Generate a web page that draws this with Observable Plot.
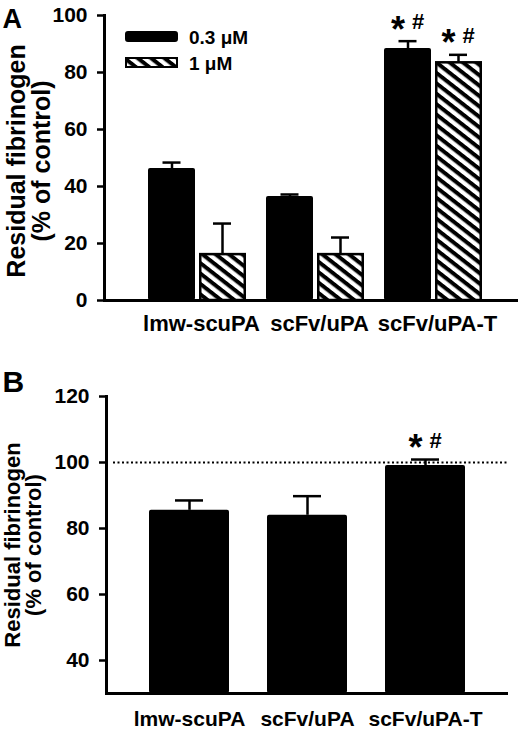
<!DOCTYPE html>
<html>
<head>
<meta charset="utf-8">
<script src="https://cdn.jsdelivr.net/npm/d3@7"></script>
<script src="https://cdn.jsdelivr.net/npm/@observablehq/plot@0.6"></script>
<style>
  body { margin: 0; background: white; }
  #chart { width: 520px; }
  #chart svg { display: block; }
</style>
</head>
<body>
<div id="chart"></div>
<script>
const categories = ["lmw-scuPA", "scFv/uPA", "scFv/uPA-T"];
const doses = ["0.3 μM", "1 μM"];

// panel A: residual fibrinogen at two doses (mean, SEM)
const lowDose = [46.3, 36.5, 88.4];
const lowDoseErr = [2.1, 0.7, 2.6];
const highDose = [16.1, 16.1, 83.4];
const highDoseErr = [10.9, 6.0, 2.8];
const sigLow = ["", "", "*#"];
const sigHigh = ["", "", "*#"];
const ticksA = [0, 20, 40, 60, 80, 100];

// panel B
const valuesB = [85.5, 84.0, 99.1];
const errB = [3.0, 5.8, 1.8];
const sigB = ["", "", "*#"];
const ticksB = [40, 60, 80, 100, 120];
const domainB = [30, 120];
const controlLevel = [100];

const yLabel = "Residual fibrinogen\n(% of control)";
const font = "'Liberation Sans', Arial, sans-serif";

const low = categories.map((c, i) => ({cat: c, v: lowDose[i], e: lowDoseErr[i], sig: sigLow[i]}));
const high = categories.map((c, i) => ({cat: c, v: highDose[i], e: highDoseErr[i], sig: sigHigh[i]}));
const rowsB = categories.map((c, i) => ({cat: c, v: valuesB[i], e: errB[i], sig: sigB[i]}));

function hatchDefs() {
  const defs = d3.create("svg:defs");
  const p = defs.append("pattern")
    .attr("id", "hatch")
    .attr("patternUnits", "userSpaceOnUse")
    .attr("width", 8.2).attr("height", 8.2)
    .attr("patternTransform", "rotate(38)");
  p.append("rect").attr("width", 8.2).attr("height", 8.2).attr("fill", "white");
  p.append("rect").attr("width", 8.2).attr("height", 4).attr("fill", "black");
  return defs.node();
}

function legendA() {
  const g = d3.create("svg:g").attr("text-anchor", "start");
  const fills = ["black", "url(#hatch)"];
  doses.forEach((d, i) => {
    const y = 32 + i * 26;
    g.append("rect")
      .attr("x", 126).attr("y", y).attr("width", 51).attr("height", 9)
      .attr("fill", fills[i]).attr("stroke", "black").attr("stroke-width", 2)
      .attr("rx", i ? 0 : 2);
    g.append("text")
      .attr("x", 189).attr("y", y + 5).attr("dy", "0.35em")
      .attr("font-size", 19).attr("fill", "black")
      .text(d);
  });
  return g.node();
}

function sigMarks(data, dx) {
  const rows = data.filter(d => d.sig);
  return [
    Plot.text(rows, {x: "cat", y: d => d.v + d.e, text: d => d.sig[0], dx: dx - 10, dy: -11, fontSize: 36}),
    Plot.text(rows, {x: "cat", y: d => d.v + d.e, text: d => d.sig[1], dx: dx + 10, dy: -19, fontSize: 22})
  ];
}

function errorMarks(data, dx, inset) {
  return [
    Plot.ruleX(data, {x: "cat", y1: "v", y2: d => d.v + d.e, dx, strokeWidth: 2.5}),
    Plot.tickY(data, {x: "cat", y: d => d.v + d.e, dx, insetLeft: inset, insetRight: inset, strokeWidth: 2.5})
  ];
}

const plotA = Plot.plot({
  width: 520,
  height: 350,
  marginLeft: 104,
  marginRight: 2,
  marginTop: 15,
  marginBottom: 50,
  style: {fontFamily: font, fontWeight: "bold", color: "black", background: "white", overflow: "visible"},
  x: {domain: categories, range: [138, 492], paddingInner: 0.17, paddingOuter: 0.085},
  y: {domain: [0, 100]},
  marks: [
    hatchDefs,
    Plot.barY(low, {x: "cat", y: "v", fill: "black", insetRight: 51, rx: 2}),
    Plot.barY(high, {x: "cat", y: "v", fill: "url(#hatch)", stroke: "black", strokeWidth: 2.5, insetLeft: 52.25, insetRight: 1.25}),
    ...errorMarks(low, -25.5, 40),
    ...errorMarks(high, 25, 40),
    ...sigMarks(low, -25.5),
    ...sigMarks(high, 25),
    Plot.axisY({ticks: ticksA, tickSize: 7, tickPadding: 10, fontSize: 21, strokeWidth: 2.5, label: null}),
    Plot.axisX({tickSize: 0, tickPadding: 15, fontSize: 22, dx: 4, label: null}),
    Plot.ruleY([0], {strokeWidth: 3}),
    Plot.frame({anchor: "left", strokeWidth: 3}),
    Plot.text([yLabel], {text: d => d, frameAnchor: "left", rotate: -90, dx: -75, dy: 3, fontSize: 25, lineHeight: 1.0, textAnchor: "middle"}),
    Plot.text(["A"], {text: d => d, frameAnchor: "top-left", dx: -102, dy: -7, fontSize: 27, textAnchor: "start", lineAnchor: "top"}),
    legendA
  ]
});

const plotB = Plot.plot({
  width: 520,
  height: 380,
  marginLeft: 106,
  marginRight: 12,
  marginTop: 46,
  marginBottom: 37,
  style: {fontFamily: font, fontWeight: "bold", color: "black", background: "white", overflow: "visible"},
  x: {domain: categories, range: [129.2, 484.3], paddingInner: 0.325, paddingOuter: 0.1625},
  y: {domain: domainB},
  marks: [
    Plot.barY(rowsB, {x: "cat", y1: domainB[0], y2: "v", fill: "black", rx: 2}),
    ...errorMarks(rowsB, 0, 26),
    ...sigMarks(rowsB, 0),
    Plot.ruleY(controlLevel, {strokeWidth: 2.2, strokeDasharray: "2,2.5", insetLeft: 7}),
    Plot.axisY({ticks: ticksB, tickSize: 7, tickPadding: 10, fontSize: 21, strokeWidth: 2.5, label: null}),
    Plot.axisX({tickSize: 0, tickPadding: 18, fontSize: 21, label: null}),
    Plot.ruleY([domainB[0]], {strokeWidth: 3}),
    Plot.frame({anchor: "left", strokeWidth: 3}),
    Plot.text([yLabel], {text: d => d, frameAnchor: "left", rotate: -90, dx: -83, dy: 0, fontSize: 22, lineHeight: 0.98, textAnchor: "middle"}),
    Plot.text(["B"], {text: d => d, frameAnchor: "top-left", dx: -104, dy: -26, fontSize: 30, textAnchor: "start", lineAnchor: "top"})
  ]
});

document.getElementById("chart").append(plotA, plotB);
</script>
</body>
</html>
